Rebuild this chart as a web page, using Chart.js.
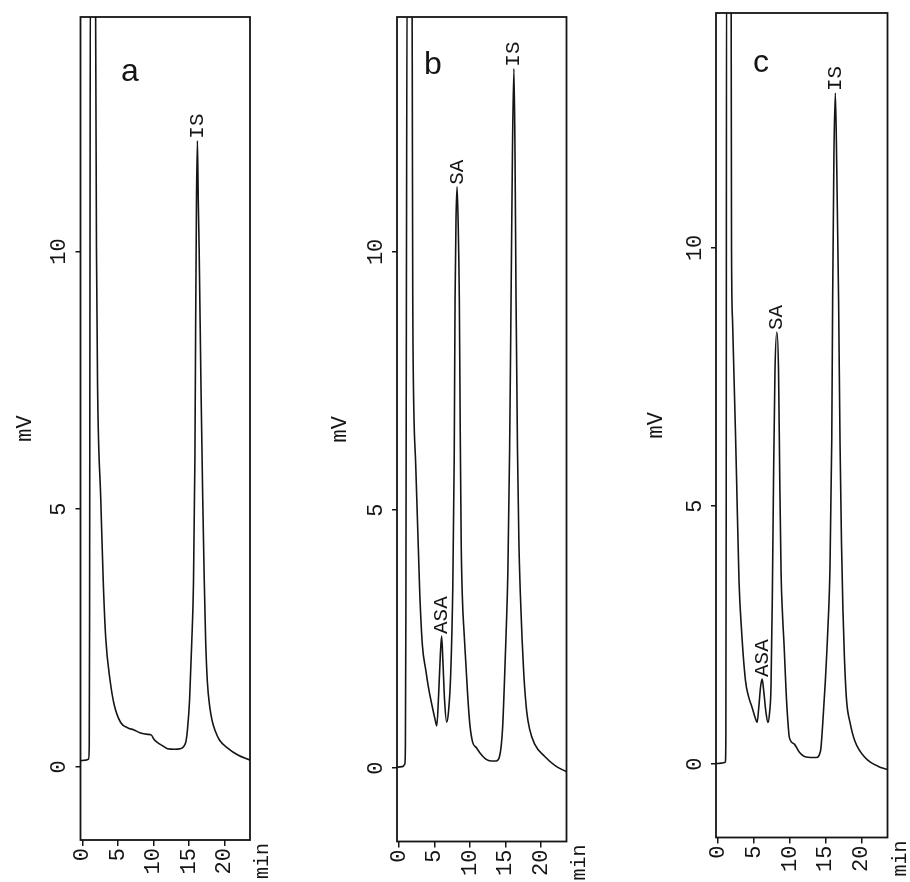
<!DOCTYPE html>
<html>
<head>
<meta charset="utf-8">
<script src="https://cdn.jsdelivr.net/npm/chart.js@4.4.1/dist/chart.umd.min.js"></script>
<style>
  html, body { margin: 0; padding: 0; background: #fff; }
  #page { position: relative; width: 910px; height: 882px; overflow: hidden; background: #fff; }
  #page canvas { position: absolute; top: 0; }
</style>
</head>
<body>
<div id="page">
  <canvas id="chartA"></canvas>
  <canvas id="chartB"></canvas>
  <canvas id="chartC"></canvas>
</div>
<script>
// retention time (min) / detector signal (mV)
const timeA = [-0.25, 0.5, 0.9, 0.98, 1.03, 1.08, 1.15, 1.8, 1.88, 2.0, 2.15, 2.6, 2.95, 3.3, 3.9, 4.5, 5.4, 6.5, 7.2, 8.1, 9.2, 9.7, 10.1, 10.8, 11.4, 12.0, 13.0, 13.8, 14.3, 14.6, 14.8, 15.1, 15.4, 15.65, 15.85, 15.95, 16.07, 16.2, 16.32, 16.45, 16.7, 16.95, 17.15, 17.35, 17.6, 17.95, 18.3, 18.7, 19.3, 20.5, 21.9, 23.6];
const signalA = [0.12, 0.13, 0.15, 0.4, 3, 9, 16, 16, 14.5, 10, 7.4, 5.2, 3.6, 2.5, 1.69, 1.2, 0.86, 0.75, 0.72, 0.66, 0.63, 0.62, 0.53, 0.45, 0.4, 0.35, 0.34, 0.35, 0.4, 0.5, 0.72, 1.3, 2.4, 3.6, 6, 8.5, 11, 12.15, 11, 10, 7.4, 5.2, 3.7, 2.5, 1.65, 1.15, 0.88, 0.7, 0.52, 0.36, 0.23, 0.13];

const timeB = [-0.25, 0.5, 0.85, 0.93, 1.0, 1.07, 1.2, 1.85, 1.92, 1.97, 2.0, 2.4, 2.95, 3.33, 3.8, 4.22, 4.7, 5.1, 5.35, 5.6, 5.85, 6.03, 6.2, 6.45, 6.74, 7.0, 7.3, 7.6, 7.8, 7.92, 8.05, 8.2, 8.35, 8.52, 8.65, 8.78, 8.95, 9.2, 9.45, 9.7, 10.0, 10.4, 10.9, 11.4, 12.3, 13.0, 13.7, 14.2, 14.6, 14.85, 15.1, 15.35, 15.6, 15.8, 16.0, 16.2, 16.35, 16.5, 16.7, 16.9, 17.1, 17.35, 17.6, 18.0, 18.4, 19.1, 20.5, 22.0, 23.6];
const signalB = [0.02, 0.03, 0.08, 0.4, 3, 9, 16, 16, 12, 9, 8.2, 5.8, 3.4, 2.37, 1.9, 1.53, 1.2, 0.95, 0.82, 1.4, 2.2, 2.56, 2.1, 1.3, 0.89, 1.1, 1.8, 3.5, 6, 9.09, 10.6, 11.26, 10.6, 9.09, 6.5, 4.4, 3.3, 2.6, 2.0, 1.4, 0.85, 0.5, 0.4, 0.3, 0.17, 0.14, 0.14, 0.24, 0.76, 1.6, 2.6, 3.8, 6.2, 9.09, 12, 13.55, 12, 9.09, 6.2, 4.4, 3.4, 2.5, 1.8, 1.1, 0.76, 0.47, 0.23, 0.05, -0.07];

const timeC = [-0.25, 0.5, 1.05, 1.12, 1.17, 1.22, 1.8, 1.86, 1.91, 2.05, 2.6, 2.95, 3.3, 3.85, 4.3, 4.77, 5.2, 5.47, 5.7, 5.95, 6.17, 6.4, 6.7, 6.97, 7.2, 7.4, 7.58, 7.75, 7.95, 8.22, 8.45, 8.62, 8.8, 9.0, 9.23, 9.5, 9.74, 9.95, 10.65, 11.35, 12.27, 13.68, 14.29, 14.6, 14.95, 15.3, 15.6, 15.85, 15.97, 16.15, 16.35, 16.55, 16.8, 17.0, 17.2, 17.4, 17.6, 17.9, 18.4, 19.06, 20.47, 22.79, 23.6];
const signalC = [0.01, 0.02, 0.04, 0.5, 5, 16, 16, 14.5, 9.95, 8.6, 5.6, 3.55, 2.6, 1.62, 1.3, 1.1, 0.9, 0.81, 1.1, 1.5, 1.65, 1.4, 1.0, 0.81, 1.0, 1.5, 3.2, 5.5, 7.6, 8.37, 7.6, 5.5, 3.7, 2.9, 2.27, 1.4, 0.84, 0.52, 0.39, 0.23, 0.14, 0.13, 0.26, 0.8, 1.6, 2.6, 3.8, 6.3, 8.98, 11.8, 13.0, 11.5, 8.98, 6.2, 4.3, 3.0, 2.1, 1.25, 0.8, 0.45, 0.13, -0.07, -0.1];

// labelled peaks: name, retention time, apex height
const peakNamesA = ['IS'];
const peakTimesA = [16.2];
const peakHeightsA = [12.15];
const peakNamesB = ['ASA', 'SA', 'IS'];
const peakTimesB = [6.03, 8.2, 16.2];
const peakHeightsB = [2.56, 11.26, 13.55];
const peakNamesC = ['ASA', 'SA', 'IS'];
const peakTimesC = [6.17, 8.22, 16.35];
const peakHeightsC = [1.65, 8.37, 13.0];

const panelLetters = ['a', 'b', 'c'];
const xTickValues = [0, 5, 10, 15, 20];
const yTickValues = [0, 5, 10];
const X_MIN = -0.25, X_MAX = 23.6;
const Y_MIN = -1.42, Y_MAX = 14.55;

const INK = '#151515';
const MONO = "'Liberation Mono', 'DejaVu Sans Mono', monospace";
const SANS = "'Liberation Sans', Arial, sans-serif";
const PAGE_H = 882;
const TICK_SIZE = 22;

// where each plot box sits on the page
const panels = [
  { canvas: 'chartA', left: 0, width: 300, box: { l: 80.5, r: 250, t: 17, b: 840 }, titleGap: 55.5, letterAt: [49.5, 55],
    times: timeA, signals: signalA, names: peakNamesA, ptimes: peakTimesA, pheights: peakHeightsA },
  { canvas: 'chartB', left: 300, width: 305, box: { l: 397, r: 566.5, t: 17, b: 841.5 }, titleGap: 57, letterAt: [36, 48],
    times: timeB, signals: signalB, names: peakNamesB, ptimes: peakTimesB, pheights: peakHeightsB },
  { canvas: 'chartC', left: 610, width: 300, box: { l: 716, r: 887.5, t: 13, b: 837.5 }, titleGap: 60, letterAt: [45, 50],
    times: timeC, signals: signalC, names: peakNamesC, ptimes: peakTimesC, pheights: peakHeightsC }
];

const framePlugin = {
  id: 'frame',
  afterDatasetsDraw(chart) {
    const { ctx, chartArea: a } = chart;
    ctx.save();
    ctx.strokeStyle = INK;
    ctx.lineWidth = 1.8;
    ctx.strokeRect(a.left, a.top, a.right - a.left, a.bottom - a.top);
    ctx.restore();
  }
};

const annotatePlugin = {
  id: 'annotate',
  afterDraw(chart, args, opts) {
    const { ctx, chartArea: a } = chart;
    const xs = chart.scales.x, ys = chart.scales.y;
    ctx.save();
    ctx.fillStyle = INK;
    // peak names, written upward from each apex
    ctx.font = '21px ' + MONO;
    ctx.textBaseline = 'middle';
    opts.names.forEach((name, i) => {
      const px = xs.getPixelForValue(opts.ptimes[i]);
      const py = ys.getPixelForValue(opts.pheights[i]);
      ctx.save();
      ctx.translate(px, py - 2);
      ctx.rotate(-Math.PI / 2);
      ctx.textAlign = 'left';
      ctx.fillText(name, 0, 0);
      ctx.restore();
    });
    // x axis unit
    ctx.font = '20px ' + MONO;
    ctx.save();
    ctx.translate(a.right + 13, a.bottom + 3);
    ctx.rotate(-Math.PI / 2);
    ctx.textAlign = 'right';
    ctx.fillText('min', 0, 0);
    ctx.restore();
    // panel letter
    ctx.font = '32px ' + SANS;
    ctx.textAlign = 'center';
    ctx.fillText(opts.letter, a.left + opts.letterAt[0], a.top + opts.letterAt[1]);
    ctx.restore();
  }
};

panels.forEach((p, idx) => {
  const canvas = document.getElementById(p.canvas);
  canvas.width = p.width;
  canvas.height = PAGE_H;
  canvas.style.left = p.left + 'px';
  const yAxisW = p.titleGap + TICK_SIZE * 0.6;
  const tickFont = { family: MONO, size: TICK_SIZE };

  new Chart(canvas, {
    type: 'line',
    data: {
      datasets: [{
        data: p.times.map((t, i) => ({ x: t, y: p.signals[i] })),
        borderColor: INK,
        borderWidth: 1.6,
        pointRadius: 0,
        fill: false,
        cubicInterpolationMode: 'monotone'
      }]
    },
    options: {
      responsive: false,
      animation: false,
      devicePixelRatio: 1,
      layout: {
        padding: {
          left: p.box.l - p.left - yAxisW,
          right: p.left + p.width - p.box.r,
          top: p.box.t,
          bottom: 0
        }
      },
      plugins: {
        legend: { display: false },
        tooltip: { enabled: false },
        annotate: {
          names: p.names, ptimes: p.ptimes, pheights: p.pheights,
          letter: panelLetters[idx], letterAt: p.letterAt
        }
      },
      scales: {
        x: {
          type: 'linear',
          min: X_MIN,
          max: X_MAX,
          afterBuildTicks: s => { s.ticks = xTickValues.map(v => ({ value: v })); },
          afterFit: s => { s.height = PAGE_H - p.box.b; s.paddingLeft = 0; s.paddingRight = 0; },
          grid: { display: true, drawOnChartArea: false, drawTicks: true, tickLength: 6, color: INK, lineWidth: 1.5 },
          border: { display: false },
          ticks: { minRotation: 90, maxRotation: 90, autoSkip: false, padding: 2, color: INK, font: tickFont }
        },
        y: {
          type: 'linear',
          min: Y_MIN,
          max: Y_MAX,
          afterBuildTicks: s => { s.ticks = yTickValues.map(v => ({ value: v })); },
          afterFit: s => { s.width = yAxisW; s.paddingTop = 0; s.paddingBottom = 0; },
          grid: { display: true, drawOnChartArea: false, drawTicks: true, tickLength: 5, color: INK, lineWidth: 1.5 },
          border: { display: false },
          title: { display: true, text: 'mV', padding: 0, color: INK, font: tickFont },
          ticks: { minRotation: 90, maxRotation: 90, crossAlign: 'center', padding: 3, color: INK, font: tickFont }
        }
      }
    },
    plugins: [framePlugin, annotatePlugin]
  });
});
</script>
</body>
</html>
